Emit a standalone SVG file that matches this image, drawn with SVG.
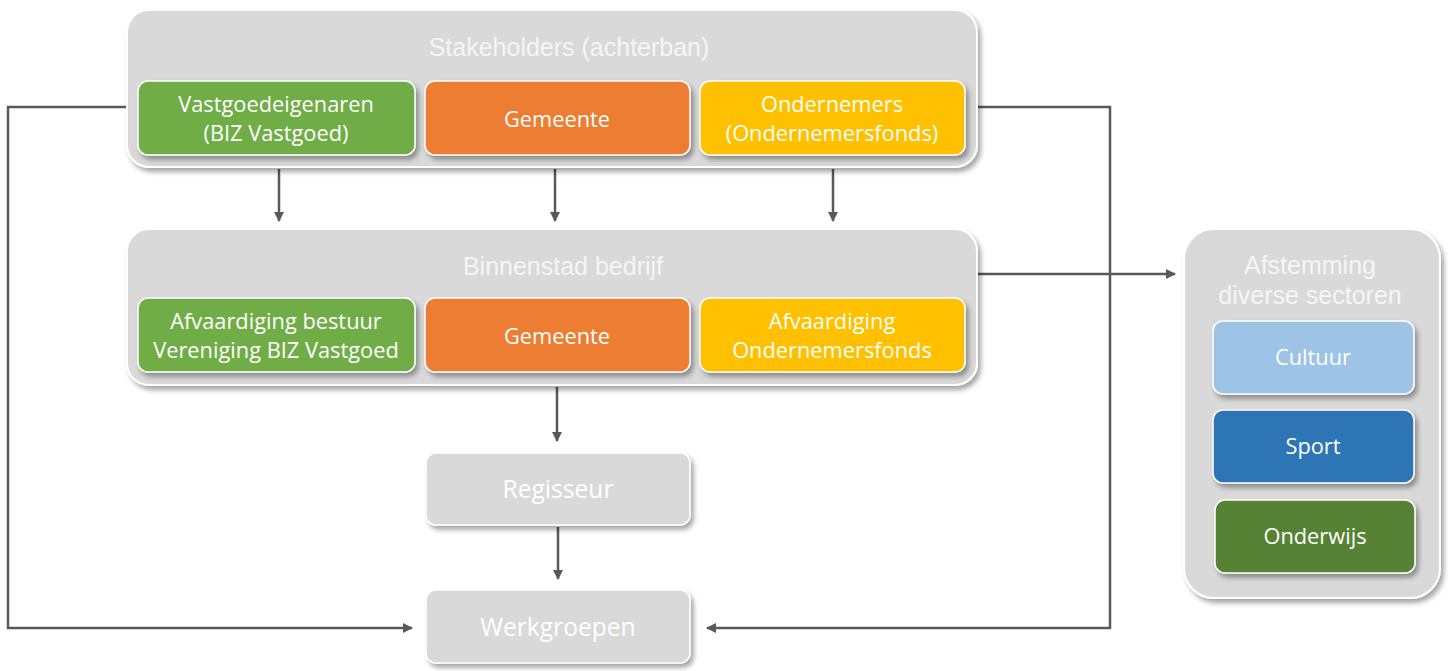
<svg xmlns="http://www.w3.org/2000/svg" width="1453" height="671" viewBox="0 0 1453 671">
<style>
.cont{fill:#d9d9d9;stroke:#ffffff;stroke-width:2;filter:url(#sh)}
.box{stroke:#ffffff;stroke-width:1.5;filter:url(#sh)}
.title{font-family:"Liberation Sans",Arial,sans-serif;font-size:25px;fill:#f5f5f5;text-anchor:middle}
.lbl{font-family:"Open Sans","Noto Sans",sans-serif;font-size:21.8px;fill:#ffffff;text-anchor:middle}
.big{font-size:24.6px}
.conn{fill:none;stroke:#595959;stroke-width:2.5;marker-end:url(#ah)}
</style>
<defs>
<filter id="sh" x="-10%" y="-10%" width="130%" height="140%">
<feDropShadow dx="3" dy="4" stdDeviation="2.5" flood-color="#000000" flood-opacity="0.35"/>
</filter>
<marker id="ah" viewBox="0 0 10 10" refX="9" refY="5" markerWidth="4" markerHeight="4" orient="auto" markerUnits="strokeWidth">
<path d="M0,0 L10,5 L0,10 z" fill="#595959"/>
</marker>
</defs>
<g id="connectors">
<path class="conn" d="M127,107 H8 V628 H412"/>
<path class="conn" d="M977,107 H1110 V628 H707"/>
<path class="conn" d="M279,169 V221"/>
<path class="conn" d="M555,169 V221"/>
<path class="conn" d="M833,169 V221"/>
<path class="conn" d="M977,274 H1175"/>
<path class="conn" d="M557,387 V441"/>
<path class="conn" d="M558,527 V579"/>
</g>
<g id="stakeholders">
<rect class="cont" x="127" y="10" width="850" height="157" rx="22"/>
<text class="title" x="569" y="56">Stakeholders (achterban)</text>
</g>
<g id="vastgoedeigenaren">
<rect class="box" x="138" y="81" width="277" height="74" rx="10" fill="#70ad47"/>
<text class="lbl" x="276" y="112">Vastgoedeigenaren</text>
<text class="lbl" x="276" y="141">(BIZ Vastgoed)</text>
</g>
<g id="gemeente1">
<rect class="box" x="425" y="81" width="265" height="74" rx="10" fill="#ed7d31"/>
<text class="lbl" x="557" y="127">Gemeente</text>
</g>
<g id="ondernemers">
<rect class="box" x="700" y="81" width="265" height="74" rx="10" fill="#ffc000"/>
<text class="lbl" x="832" y="112">Ondernemers</text>
<text class="lbl" x="832" y="141">(Ondernemersfonds)</text>
</g>
<g id="binnenstad">
<rect class="cont" x="127" y="229" width="850" height="156" rx="22"/>
<text class="title" x="563" y="275">Binnenstad bedrijf</text>
</g>
<g id="afvaardiging-bestuur">
<rect class="box" x="138" y="298" width="277" height="74" rx="10" fill="#70ad47"/>
<text class="lbl" x="276" y="329">Afvaardiging bestuur</text>
<text class="lbl" x="276" y="358">Vereniging BIZ Vastgoed</text>
</g>
<g id="gemeente2">
<rect class="box" x="425" y="298" width="265" height="74" rx="10" fill="#ed7d31"/>
<text class="lbl" x="557" y="344">Gemeente</text>
</g>
<g id="afvaardiging-ondernemersfonds">
<rect class="box" x="700" y="298" width="265" height="74" rx="10" fill="#ffc000"/>
<text class="lbl" x="832" y="329">Afvaardiging</text>
<text class="lbl" x="832" y="358">Ondernemersfonds</text>
</g>
<g id="regisseur">
<rect class="box" x="426" y="453" width="264" height="72" rx="10" fill="#d9d9d9"/>
<text class="lbl big" x="558" y="498">Regisseur</text>
</g>
<g id="werkgroepen">
<rect class="box" x="426" y="590" width="264" height="73" rx="10" fill="#d9d9d9"/>
<text class="lbl big" x="558" y="636">Werkgroepen</text>
</g>
<g id="afstemming">
<rect class="cont" x="1184" y="229" width="256" height="369" rx="30"/>
<text class="title" x="1310" y="274">Afstemming</text>
<text class="title" x="1310" y="304">diverse sectoren</text>
</g>
<g id="cultuur">
<rect class="box" x="1213" y="321" width="201" height="73" rx="10" fill="#9dc3e6"/>
<text class="lbl" x="1313" y="365">Cultuur</text>
</g>
<g id="sport">
<rect class="box" x="1213" y="410" width="201" height="73" rx="10" fill="#2e75b6"/>
<text class="lbl" x="1313" y="454">Sport</text>
</g>
<g id="onderwijs">
<rect class="box" x="1215" y="500" width="200" height="73" rx="10" fill="#548235"/>
<text class="lbl" x="1315" y="544">Onderwijs</text>
</g>
</svg>
